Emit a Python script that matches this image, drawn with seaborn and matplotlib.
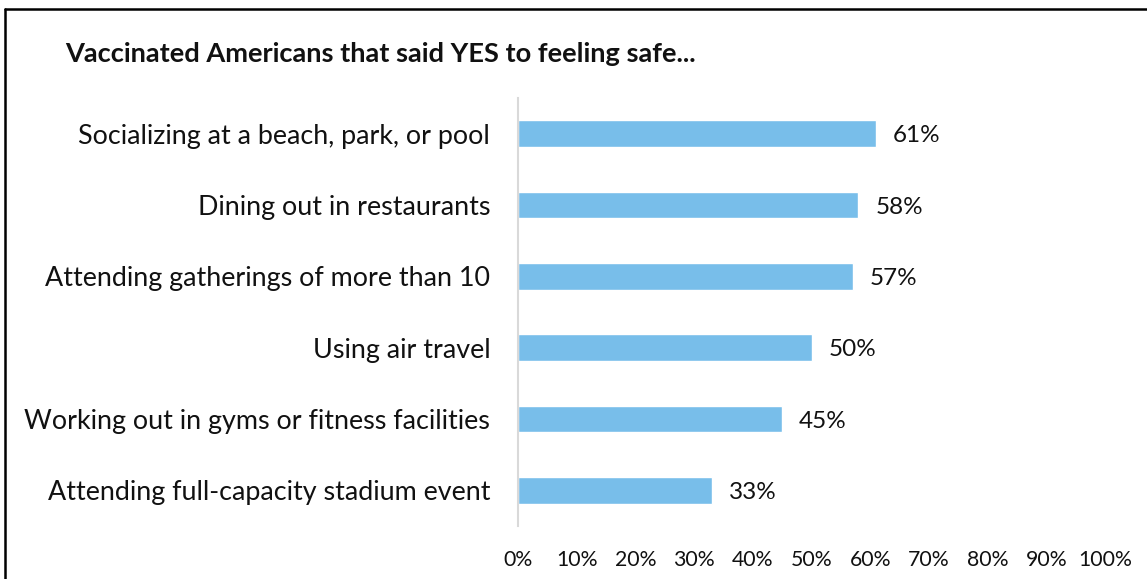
import pandas as pd
import seaborn as sns
import matplotlib.pyplot as plt
from matplotlib.lines import Line2D

activities = [
    "Socializing at a beach, park, or pool",
    "Dining out in restaurants",
    "Attending gatherings of more than 10",
    "Using air travel",
    "Working out in gyms or fitness facilities",
    "Attending full-capacity stadium event",
]
pct_yes = [61, 58, 57, 50, 45, 33]
x_ticks = [0, 10, 20, 30, 40, 50, 60, 70, 80, 90, 100]

df = pd.DataFrame({"activity": activities, "pct": pct_yes})

sns.set_theme(style="white")
plt.rcParams["font.family"] = ["Lato", "DejaVu Sans"]

fig = plt.figure(figsize=(11.47, 5.79), dpi=100)
ax = fig.add_axes([0.4516, 0.0915, 0.5118, 0.7392])

sns.barplot(data=df, x="pct", y="activity", color="#78BEEA", saturation=1,
            width=0.37, ax=ax)

for i, v in enumerate(pct_yes):
    ax.text(v + 2.9, i + 0.03, f"{v}%", va="center", ha="left", fontsize=17.5, color="#111111")

ax.set_xlim(0, 100)
ax.set_ylim(5.5, -0.5)
ax.set_xticks(x_ticks)
ax.set_xticklabels([f"{t}%" for t in x_ticks], fontsize=15.3, color="#111111")
ax.tick_params(axis="x", length=0, pad=17)
ax.tick_params(axis="y", length=0, pad=20, labelsize=19.4, labelcolor="#111111")
ax.set_xlabel("")
ax.set_ylabel("")
for s in ["top", "right", "bottom"]:
    ax.spines[s].set_visible(False)
ax.spines["left"].set_color("#d9d9d9")
ax.spines["left"].set_linewidth(1.5)

fig.text(0.057, 0.907, "Vaccinated Americans that said YES to feeling safe...",
         fontsize=19.6, fontweight="bold", va="center", ha="left", color="#111111")

# outer frame (only top and left edges visible)
fig.add_artist(Line2D([0.0044, 1.0], [0.985, 0.985], transform=fig.transFigure,
                      color="black", linewidth=1.8))
fig.add_artist(Line2D([0.0044, 0.0044], [0.0, 0.985], transform=fig.transFigure,
                      color="black", linewidth=1.8))

fig.savefig("out.png", dpi=100)
